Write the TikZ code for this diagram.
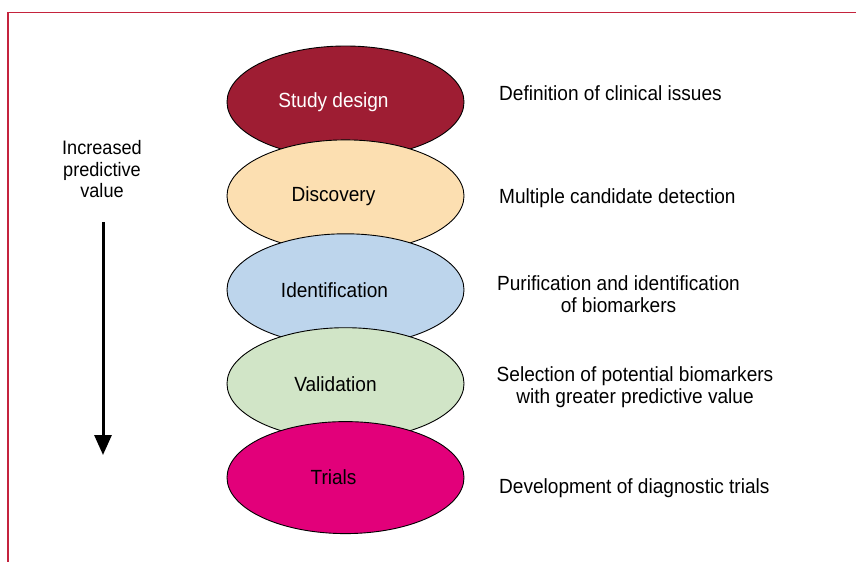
\documentclass[tikz,border=0pt]{standalone}
\usepackage{fontspec}
\setmainfont{Liberation Sans}[FakeStretch=0.93]
\usetikzlibrary{arrows.meta,positioning,shapes.geometric}
\definecolor{frameRed}{HTML}{C4233D}
\definecolor{stageRed}{HTML}{9E1D33}
\definecolor{stageSand}{HTML}{FCDFB1}
\definecolor{stageBlue}{HTML}{BDD5EC}
\definecolor{stageGreen}{HTML}{D1E5C7}
\definecolor{stagePink}{HTML}{E2007A}

\begin{document}
\begin{tikzpicture}[
  x=1pt, y=-1pt, node distance=-19pt,
  stage/.style={draw, ellipse, line width=0.9pt, minimum width=237pt, minimum height=112pt, inner sep=0pt},
  stagetext/.style={font=\fontsize{20.5}{22}\selectfont, inner sep=0pt},
  desc/.style={font=\fontsize{20.5}{22}\selectfont, align=center, inner sep=0pt},
  bigarrow/.style={line width=3pt, -{Triangle[width=17pt,length=20pt]}}
]
\useasboundingbox (0,0) rectangle (856,562);
\draw[frameRed, line width=1.1pt] (856,12.5) -| (8,562);

% stages, each one lying over the one above it
\node[stage, fill=stageRed] (design) at (345.5,102) {};
\node[stage, fill=stageSand, below=of design] (discovery) {};
\node[stage, fill=stageBlue, below=of discovery] (ident) {};
\node[stage, fill=stageGreen, below=of ident] (valid) {};
\node[stage, fill=stagePink, below=of valid] (trials) {};

\node[stagetext, text=white] (designtxt) at ([xshift=-12pt]design.center) {Study design};
\node[stagetext] (discoverytxt) at ([xshift=-12pt]discovery.center) {Discovery};
\node[stagetext] (identtxt) at ([xshift=-11pt]ident.center) {Identification};
\node[stagetext] (validtxt) at ([xshift=-10pt]valid.center) {Validation};
\node[stagetext] (trialstxt) at ([xshift=-12pt]trials.center) {Trials};

% what happens at each stage
\node[desc, anchor=base west] (designdesc) at (499,100) {Definition of clinical issues};
\node[desc, anchor=base west] (discoverydesc) at (499,203) {Multiple candidate detection};
\node[desc, anchor=north] (identdesc) at (618.5,275) {Purification and identification\\of biomarkers};
\node[desc, anchor=north] (validdesc) at (635,366) {Selection of potential biomarkers\\with greater predictive value};
\node[desc, anchor=base west] (trialsdesc) at (499,493) {Development of diagnostic trials};

% predictive value arrow
\node[desc, font=\fontsize{19.5}{21.5}\selectfont, anchor=north] (incr) at (102,140.5) {Increased\\predictive\\value};
\coordinate (arrtop) at (103,222);
\coordinate (arrtip) at (103,455);
\draw[bigarrow] (arrtop) -- (arrtip);
\end{tikzpicture}
\end{document}
